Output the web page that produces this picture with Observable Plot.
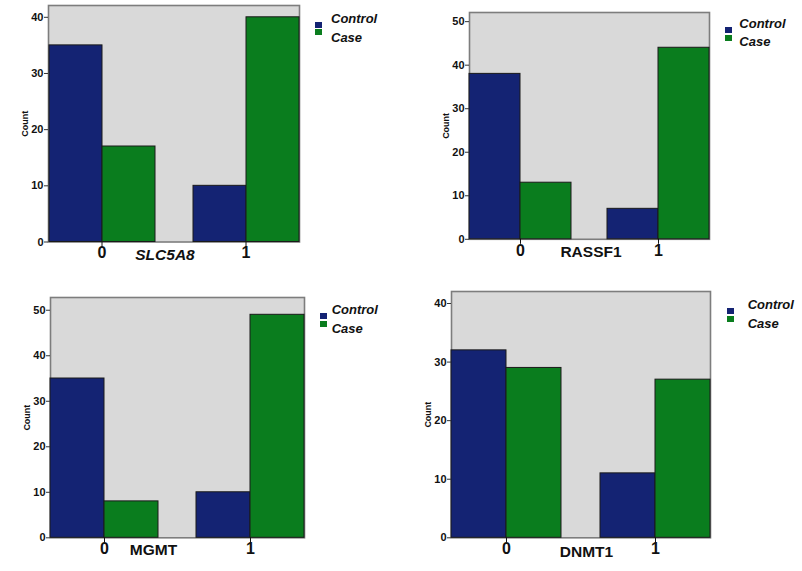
<!DOCTYPE html>
<html><head><meta charset="utf-8">
<script src="https://cdn.jsdelivr.net/npm/d3@7"></script>
<script src="https://cdn.jsdelivr.net/npm/@observablehq/plot@0.6"></script>
<style>
body{margin:0;background:#fff;}
#page{position:relative;width:802px;height:571px;overflow:hidden;background:#fff;}
.panel{position:absolute;}
.lg{position:absolute;font:italic bold 13px "Liberation Sans",Arial,sans-serif;color:#111;line-height:13px;white-space:nowrap;}
.sw{position:absolute;width:7px;height:6px;}
.gene{position:absolute;font:bold 15.5px "Liberation Sans",Arial,sans-serif;color:#111;white-space:nowrap;line-height:15.5px;transform:translateX(-50%);}
</style></head><body><div id="page"></div>
<script>
// ---- data ----
const groups = ["0", "1"];
const series = ["Control", "Case"];
const seriesColors = ["#142373", "#0a7d1e"];
const genes = ["SLC5A8", "RASSF1", "MGMT", "DNMT1"];
const controlCounts = [[35, 10], [38, 7], [35, 10], [32, 11]];
const caseCounts = [[17, 40], [13, 44], [8, 49], [29, 27]];
const yMax = [42.1, 52.1, 52.8, 42.05];
const yTicks = [[0, 10, 20, 30, 40], [0, 10, 20, 30, 40, 50], [0, 10, 20, 30, 40, 50], [0, 10, 20, 30, 40]];
const yLabel = "Count";

// ---- layout (page px) ----
const frames = [
  {L: 33.3, T: 5, R: 314.3, B: 241.5, geneX: 165, geneBase: 260.5, italic: true,
   sx: 315, sy: 21.5, tx: 331, ty: 23.3},
  {L: 455, T: 11.7, R: 724, B: 238.5, geneX: 591, geneBase: 257.3, italic: false,
   sx: 725, sy: 27.3, tx: 739.3, ty: 27.7},
  {L: 35, T: 296.7, R: 320, B: 537, geneX: 153.5, geneBase: 555, italic: false,
   sx: 320, sy: 313.3, tx: 331.7, ty: 314.3},
  {L: 435.7, T: 290.7, R: 725, B: 537, geneX: 586.5, geneBase: 556.7, italic: false,
   sx: 726.7, sy: 308.3, tx: 747.7, ty: 309.3}
];
const mL = 40, mT = 10, mR = 5, mB = 30;
const font = '"Liberation Sans", Arial, sans-serif';
const page = document.getElementById("page");

genes.forEach((gene, k) => {
  const f = frames[k];
  const data = groups.flatMap((g, i) => [
    {group: g, series: series[0], count: controlCounts[k][i]},
    {group: g, series: series[1], count: caseCounts[k][i]}
  ]);
  const chart = Plot.plot({
    width: (f.R - f.L) + mL + mR,
    height: (f.B - f.T) + mT + mB,
    marginLeft: mL, marginTop: mT, marginRight: mR, marginBottom: mB,
    style: {fontFamily: font, background: "none", color: "#111", overflow: "visible"},
    fx: {domain: groups, paddingInner: 0.26, paddingOuter: 0.1, label: null},
    x: {domain: series, padding: 0, axis: null},
    y: {domain: [0, yMax[k]], axis: null},
    color: {domain: series, range: seriesColors},
    marks: [
      Plot.frame({fill: "#d9d9d9", stroke: "#7d7d7d", strokeWidth: 1.6, facet: "super"}),
      Plot.barY(data, {fx: "group", x: "series", y: "count", fill: "series", stroke: "#1a1a1a", strokeWidth: 1}),
      Plot.axisY({ticks: yTicks[k], tickSize: 4, tickPadding: 1, fontSize: 11, fontWeight: "bold", stroke: "#333", fill: "#111", label: null}),
      Plot.axisY({ticks: [], tickSize: 0, fontSize: 9, fontWeight: "bold", label: yLabel, labelAnchor: "center", labelOffset: 27, labelArrow: "none"}),
      Plot.axisFx({anchor: "bottom", tickSize: 5, tickPadding: 0, fontSize: 16, fontWeight: "bold", stroke: "#111", fill: "#111", label: null})
    ]
  });
  const wrap = document.createElement("div");
  wrap.className = "panel";
  wrap.style.left = (f.L - mL) + "px";
  wrap.style.top = (f.T - mT) + "px";
  wrap.appendChild(chart);
  page.appendChild(wrap);

  // gene name under the axis
  const g = document.createElement("div");
  g.className = "gene";
  g.textContent = gene;
  g.style.left = f.geneX + "px";
  g.style.top = (f.geneBase - 13.1) + "px";
  if (f.italic) g.style.fontStyle = "italic";
  page.appendChild(g);

  // legend
  series.forEach((s, j) => {
    const sw = document.createElement("div");
    sw.className = "sw";
    sw.style.background = seriesColors[j];
    sw.style.left = f.sx + "px";
    sw.style.top = (f.sy + j * 7.5) + "px";
    page.appendChild(sw);
    const t = document.createElement("div");
    t.className = "lg";
    t.textContent = s;
    t.style.left = f.tx + "px";
    t.style.top = (f.ty + j * 18.3 - 11) + "px";
    page.appendChild(t);
  });
});
</script></body></html>
